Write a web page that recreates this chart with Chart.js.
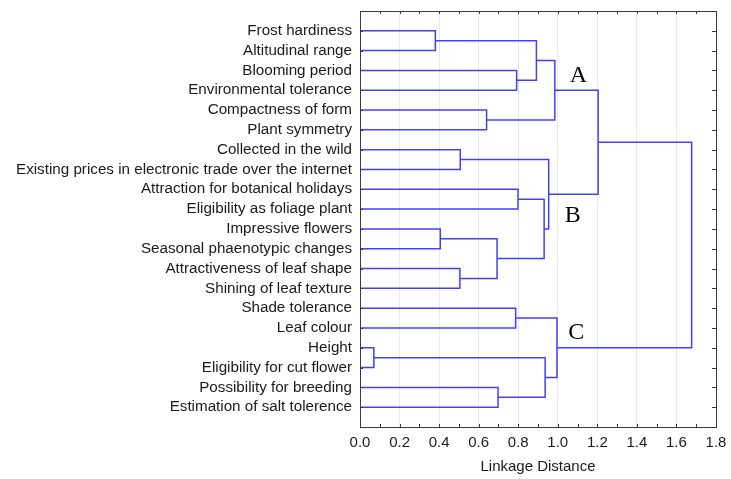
<!DOCTYPE html>
<html>
<head>
<meta charset="utf-8">
<script src="https://cdn.jsdelivr.net/npm/chart.js@4"></script>
<style>
  html, body { margin: 0; padding: 0; background: #ffffff; }
  #wrap { width: 731px; height: 479px; }
</style>
</head>
<body>
<div id="wrap"><canvas id="c" width="731" height="479"></canvas></div>
<script>
// ---- data ----
const leaves = [
  "Frost hardiness",
  "Altitudinal range",
  "Blooming period",
  "Environmental tolerance",
  "Compactness of form",
  "Plant symmetry",
  "Collected in the wild",
  "Existing prices in electronic trade over the internet",
  "Attraction for botanical holidays",
  "Eligibility as foliage plant",
  "Impressive flowers",
  "Seasonal phaenotypic changes",
  "Attractiveness of leaf shape",
  "Shining of leaf texture",
  "Shade tolerance",
  "Leaf colour",
  "Height",
  "Eligibility for cut flower",
  "Possibility for breeding",
  "Estimation of salt tolerence"
];
// merge k creates node id leaves.length + k
const mergeLeft   = [16, 0,  10, 12, 6,  4,  22, 18, 14, 2,  8,  21, 30, 20, 24, 31, 28, 35, 37];
const mergeRight  = [17, 1,  11, 13, 7,  5,  23, 19, 15, 3,  9,  29, 26, 27, 32, 25, 33, 34, 36];
const mergeHeight = [0.070, 0.381, 0.406, 0.505, 0.507, 0.640, 0.693, 0.698, 0.787, 0.792, 0.799,
                     0.892, 0.931, 0.936, 0.954, 0.985, 0.996, 1.204, 1.677];
const xTicks = [0.0, 0.2, 0.4, 0.6, 0.8, 1.0, 1.2, 1.4, 1.6, 1.8];
const minorStep = 0.1;
const clusterNames = ["A", "B", "C"];
const clusterX = [1.104, 1.076, 1.094];
const clusterY = [3.25, 10.32, 16.23];

// ---- build dendrogram links ----
const nodeY = leaves.map((_, i) => i + 1);
const nodeH = leaves.map(() => 0);
const datasets = [];
for (let k = 0; k < mergeHeight.length; k++) {
  const a = mergeLeft[k], b = mergeRight[k], h = mergeHeight[k];
  datasets.push({
    data: [
      { x: nodeH[a], y: nodeY[a] },
      { x: h, y: nodeY[a] },
      { x: h, y: nodeY[b] },
      { x: nodeH[b], y: nodeY[b] }
    ],
    showLine: true,
    borderColor: "rgb(64,64,255)",
    borderWidth: 1.5,
    pointRadius: 0,
    tension: 0,
    fill: false
  });
  nodeY.push((nodeY[a] + nodeY[b]) / 2);
  nodeH.push(h);
}

const FONT = "'Liberation Sans', Arial, sans-serif";
const TEXT = "#1a1a1a";

const framePlugin = {
  id: "frame",
  afterDatasetsDraw(chart) {
    const { ctx, chartArea: a, scales } = chart;
    const xs = scales.x, ys = scales.y;
    ctx.save();
    ctx.strokeStyle = "#3a3a3a";
    ctx.lineWidth = 1;
    ctx.beginPath();
    for (let v = minorStep; v < xTicks[xTicks.length - 1] - 1e-6; v += minorStep) {
      const px = Math.round(xs.getPixelForValue(v)) + 0.5;
      ctx.moveTo(px, a.top); ctx.lineTo(px, a.top + 3);
      ctx.moveTo(px, a.bottom); ctx.lineTo(px, a.bottom - 3);
    }
    for (let i = 0; i < leaves.length; i++) {
      const py = Math.round(ys.getPixelForValue(i + 1)) + 0.5;
      ctx.moveTo(a.left, py); ctx.lineTo(a.left + 3, py);
      ctx.moveTo(a.right, py); ctx.lineTo(a.right - 4, py);
    }
    ctx.stroke();
    ctx.strokeRect(Math.round(a.left) + 0.5, Math.round(a.top) + 0.5,
                   Math.round(a.right - a.left), Math.round(a.bottom - a.top));
    ctx.fillStyle = "#000";
    ctx.font = "24px 'Liberation Serif', 'Times New Roman', serif";
    ctx.textAlign = "center";
    ctx.textBaseline = "middle";
    for (let i = 0; i < clusterNames.length; i++) {
      ctx.fillText(clusterNames[i], xs.getPixelForValue(clusterX[i]), ys.getPixelForValue(clusterY[i]));
    }
    ctx.restore();
  }
};

new Chart(document.getElementById("c"), {
  type: "scatter",
  data: { datasets },
  plugins: [framePlugin],
  options: {
    responsive: false,
    animation: false,
    events: [],
    layout: { padding: { top: 11, right: 15, left: 0, bottom: 0 } },
    plugins: { legend: { display: false }, tooltip: { enabled: false } },
    scales: {
      x: {
        type: "linear",
        min: xTicks[0],
        max: xTicks[xTicks.length - 1],
        afterBuildTicks(s) { s.ticks = xTicks.map(v => ({ value: v })); },
        afterFit(s) { s.height = 52; s.paddingLeft = 0; s.paddingRight = 0; },
        grid: { display: true, color: "#e9e9e9", lineWidth: 1, drawTicks: false },
        border: { display: false },
        ticks: {
          padding: 7,
          color: TEXT,
          font: { family: FONT, size: 15 },
          callback: v => Number(v).toFixed(1)
        },
        title: {
          display: true,
          text: "Linkage Distance",
          color: TEXT,
          font: { family: FONT, size: 15 },
          padding: { top: 0, bottom: 3 }
        }
      },
      y: {
        type: "linear",
        min: 0,
        max: leaves.length + 1,
        reverse: true,
        afterBuildTicks(s) { s.ticks = leaves.map((_, i) => ({ value: i + 1 })); },
        afterFit(s) { s.width = 360; s.paddingTop = 0; s.paddingBottom = 0; },
        grid: { display: false, drawTicks: false },
        border: { display: false },
        ticks: {
          padding: 8,
          color: TEXT,
          font: { family: FONT, size: 15.2 },
          autoSkip: false,
          callback: v => leaves[Math.round(v) - 1]
        }
      }
    }
  }
});
</script>
</body>
</html>
